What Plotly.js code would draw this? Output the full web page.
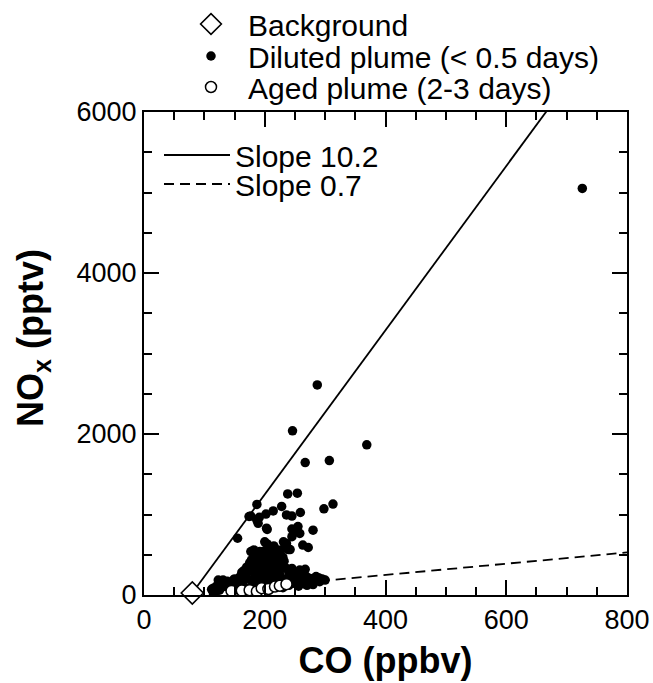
<!DOCTYPE html>
<html><head><meta charset="utf-8">
<script src="https://cdn.plot.ly/plotly-3.0.1.min.js"></script>
<style>body{margin:0;background:#fff}#chart{width:653px;height:683px}</style>
</head><body><div id="chart"></div>
<script>
// Background point
const backgroundCO = [80];
const backgroundNOx = [25];
// Diluted plume (< 0.5 days)
const dilutedCO = [287,246,369,267,307,726,
  238,254,187,228,298,313,
  174,202,214,236,245,259,191,177,
  187,189,203,245,255,245,280,204,250,258,
  155,231,200,204,210,217,220,236,242,
  263,272,239,
  177,182,178,192,195,191,206,209,199,189,181,170,
  217,220,225,214,206,195,184,170,164,156,148,
  258,267,262,262,
  269,275,286,291,300,280,290,
  131,123,115,115,
  142,153,165,181,203,220,247,256,
  175,185,195,205,215,225,180,190,200,210,220,230,240,235,200,190,210,220,230,205,196,185,175,168,160,150,140,135,125,165,172,228,236,240,245,250,255,265,270,280,160,170,190,210,230,125,118,130,145,
  200,212,222,208,198,185,178,172,162,158,150,138,128,120,112,260,270,280,285,295,250,245,232,227,215];
const dilutedNOx = [2610,2040,1865,1645,1670,5050,
  1255,1265,1125,1100,1070,1130,
  975,1005,1045,995,980,1025,965,980,
  930,890,830,820,850,725,805,815,785,765,
  705,660,660,635,600,580,540,640,565,
  620,590,565,
  540,560,435,540,495,435,495,435,395,350,360,345,
  415,350,310,270,230,230,230,205,165,165,185,
  310,320,300,260,
  230,205,185,165,185,200,210,
  185,185,85,20,
  105,105,85,105,105,105,145,110,
  300,280,320,350,380,250,150,130,180,160,200,150,120,200,250,200,300,450,470,450,400,420,400,250,130,120,140,150,130,300,200,380,330,280,240,200,160,140,120,130,90,80,90,80,90,60,40,100,60,
  550,520,500,470,480,470,380,330,280,220,200,170,160,110,70,200,170,170,230,200,270,330,420,560,610];
// Aged plume (2-3 days)
const agedCO = [145,162,175,187,195,206,217,225,236];
const agedNOx = [50,55,60,45,85,75,105,115,135];
// Reference slopes (pptv per ppbv) from background
const slopes = [10.2, 0.7];
const slopeNames = ['Slope 10.2', 'Slope 0.7'];
const lineCO = [80, 800];

const font = '"Liberation Sans", Arial, Helvetica, sans-serif';
const W = 483, H = 483, L = 144, T = 112;
const px = x => (x - L) / W;
const py = y => (T + H - y) / H;

const lineTraces = slopes.map((s, i) => ({
  x: lineCO,
  y: lineCO.map(c => backgroundNOx[0] + s * (c - backgroundCO[0])),
  mode: 'lines', name: slopeNames[i],
  line: {color: '#000', width: 1.8, dash: i === 0 ? 'solid' : '10px,6px'},
  legend: i === 0 ? 'legend4' : 'legend5',
  hoverinfo: 'skip'
}));

const data = [
  ...lineTraces,
  {x: dilutedCO, y: dilutedNOx, mode: 'markers', name: 'Diluted plume (< 0.5 days)',
   marker: {color: '#000', size: 9.5, line: {width: 0}}, legend: 'legend2'},
  {x: agedCO, y: agedNOx, mode: 'markers', name: 'Aged plume (2-3 days)',
   marker: {color: '#fff', size: 11, line: {color: '#000', width: 1.5}}, legend: 'legend3'},
  {x: backgroundCO, y: backgroundNOx, mode: 'markers', name: 'Background', cliponaxis: false,
   marker: {symbol: 'diamond', color: '#fff', size: 17, line: {color: '#000', width: 1.6}}, legend: 'legend'}
];

const legBase = {xanchor: 'left', yanchor: 'middle', bgcolor: 'rgba(0,0,0,0)', borderwidth: 0,
  font: {family: font, size: 30, color: '#000'}};
const axisBase = {
  showline: true, linecolor: '#000', linewidth: 2, mirror: 'ticks',
  ticks: 'inside', ticklen: 15, tickwidth: 2, tickcolor: '#000',
  showgrid: false, zeroline: false, fixedrange: true,
  tickfont: {family: font, size: 27, color: '#000'}
};

const layout = {
  width: 653, height: 683,
  margin: {l: L, r: 653 - L - W, t: T, b: 683 - T - H, autoexpand: false},
  paper_bgcolor: '#fff', plot_bgcolor: '#fff',
  font: {family: font, color: '#000'},
  showlegend: true,
  xaxis: Object.assign({}, axisBase, {
    range: [0, 800], dtick: 200, tick0: 0,
    minor: {dtick: 50, ticks: 'inside', ticklen: 8, tickwidth: 2, tickcolor: '#000'},
    title: {text: '<b>CO (ppbv)</b>', font: {family: font, size: 36, color: '#000'}, standoff: 13}
  }),
  yaxis: Object.assign({}, axisBase, {
    range: [0, 6000], dtick: 2000, tick0: 0,
    minor: {dtick: 500, ticks: 'inside', ticklen: 8, tickwidth: 2, tickcolor: '#000'}
  }),
  annotations: [{
    text: '<b>NO<sub>x</sub> (pptv)</b>', textangle: -90, showarrow: false,
    xref: 'paper', yref: 'paper', x: px(33), y: py(338), xanchor: 'center', yanchor: 'middle',
    font: {family: font, size: 36, color: '#000'}
  }],
  legend: Object.assign({}, legBase, {x: px(174), y: py(24), itemwidth: 64}),
  legend2: Object.assign({}, legBase, {x: px(174), y: py(56), itemwidth: 64}),
  legend3: Object.assign({}, legBase, {x: px(174), y: py(87), itemwidth: 64}),
  legend4: Object.assign({}, legBase, {x: px(159), y: py(155), itemwidth: 66}),
  legend5: Object.assign({}, legBase, {x: px(159), y: py(184), itemwidth: 66})
};

Plotly.newPlot('chart', data, layout, {staticPlot: true, displayModeBar: false});
</script></body></html>
